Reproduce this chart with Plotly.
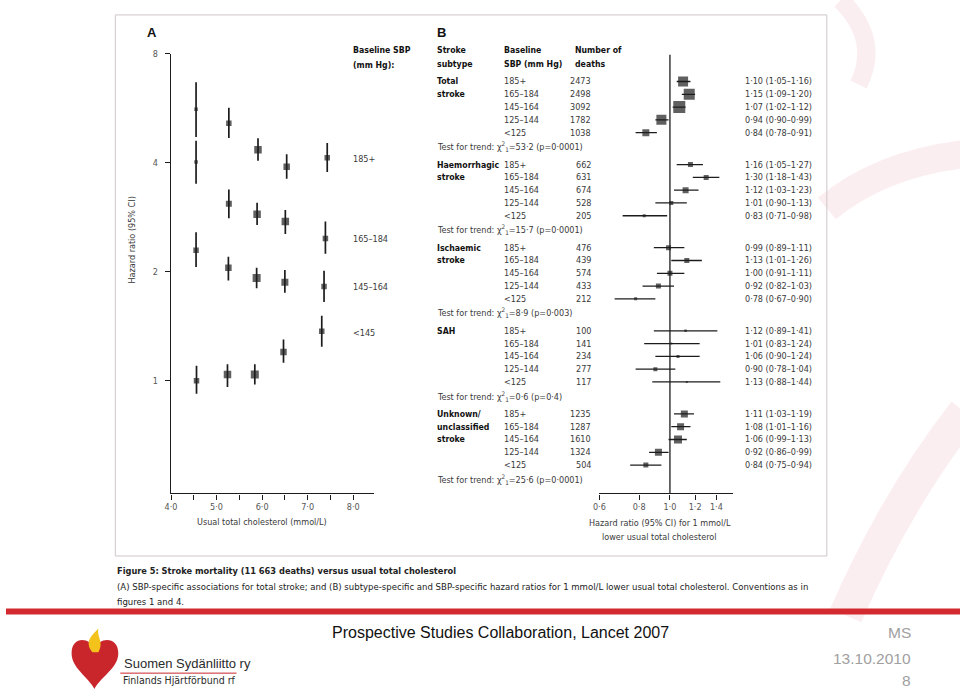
import plotly.graph_objects as go

W, H = 960, 692
def px(x): return x / W
def py(y): return 1 - y / H

# ---------------- Panel A data ----------------
sbp_levels_a = ["185+", "165–184", "145–164", "<145"]
chol_185 = [4.55, 5.27, 5.91, 6.54, 7.43]
hr_185 = [5.62, 5.14, 4.34, 3.90, 4.13]
lo_185 = [4.71, 4.68, 4.05, 3.61, 3.77]
hi_185 = [6.67, 5.67, 4.67, 4.22, 4.53]

chol_165 = [4.55, 5.27, 5.89, 6.51, 7.39]
hr_165 = [4.02, 3.08, 2.88, 2.75, 2.47]
lo_165 = [3.50, 2.81, 2.69, 2.54, 2.24]
hi_165 = [4.60, 3.37, 3.10, 2.96, 2.75]

chol_145 = [4.55, 5.26, 5.88, 6.50, 7.36]
hr_145 = [2.29, 2.05, 1.92, 1.87, 1.82]
lo_145 = [2.06, 1.89, 1.80, 1.75, 1.65]
hi_145 = [2.57, 2.20, 2.05, 2.02, 2.01]

chol_lt145 = [4.56, 5.24, 5.84, 6.47, 7.31]
hr_lt145 = [1.00, 1.04, 1.04, 1.20, 1.37]
lo_lt145 = [0.92, 0.96, 0.975, 1.12, 1.24]
hi_lt145 = [1.10, 1.11, 1.11, 1.30, 1.51]

a_xticks = [4.0, 5.0, 6.0, 7.0, 8.0]
a_xticktext = ["4·0", "5·0", "6·0", "7·0", "8·0"]
a_xminor = [4.5, 5.5, 6.5, 7.5]
a_yticks = [1, 2, 4, 8]

# ---------------- Panel B data ----------------
subtype_lines = [["Total", "stroke"], ["Haemorrhagic", "stroke"], ["Ischaemic", "stroke"],
                 ["SAH"], ["Unknown/", "unclassified", "stroke"]]
sbp_groups = ["185+", "165–184", "145–164", "125–144", "<125"]

deaths_total = [2473, 2498, 3092, 1782, 1038]
hr_total = [1.10, 1.15, 1.07, 0.94, 0.84]
lo_total = [1.05, 1.09, 1.02, 0.90, 0.78]
hi_total = [1.16, 1.20, 1.12, 0.99, 0.91]

deaths_haem = [662, 631, 674, 528, 205]
hr_haem = [1.16, 1.30, 1.12, 1.01, 0.83]
lo_haem = [1.05, 1.18, 1.03, 0.90, 0.71]
hi_haem = [1.27, 1.43, 1.23, 1.13, 0.98]

deaths_isch = [476, 439, 574, 433, 212]
hr_isch = [0.99, 1.13, 1.00, 0.92, 0.78]
lo_isch = [0.89, 1.01, 0.91, 0.82, 0.67]
hi_isch = [1.11, 1.26, 1.11, 1.03, 0.90]

deaths_sah = [100, 141, 234, 277, 117]
hr_sah = [1.12, 1.01, 1.06, 0.90, 1.13]
lo_sah = [0.89, 0.83, 0.90, 0.78, 0.88]
hi_sah = [1.41, 1.24, 1.24, 1.04, 1.44]

deaths_unk = [1235, 1287, 1610, 1324, 504]
hr_unk = [1.11, 1.08, 1.06, 0.92, 0.84]
lo_unk = [1.03, 1.01, 0.99, 0.86, 0.75]
hi_unk = [1.19, 1.16, 1.13, 0.99, 0.94]

trend_chi = ["53·2", "15·7", "8·9", "0·6", "25·6"]
trend_p = ["0·0001", "0·0001", "0·003", "0·4", "0·0001"]

b_xticks = [0.6, 0.8, 1.0, 1.2, 1.4]
b_xticktext = ["0·6", "0·8", "1·0", "1·2", "1·4"]

# ---------------- styles ----------------
FONT = "DejaVu Sans Condensed, Liberation Sans Narrow, sans-serif"
SANS = "Liberation Sans, Arial, sans-serif"
INK = "#1c1c1c"
TXT = "#3a3a3a"
FS = 9.0
FSB = 8.7
size_a = [[3.5, 5.5, 7.5, 6.5, 5.5], [3.5, 6, 7.5, 7.5, 5.5], [5.5, 6.5, 8, 7, 5.5], [5.5, 7.5, 8, 6.5, 5.5]]
size_b = [[10, 11, 12, 10, 7], [5, 5, 6, 4, 3], [5, 5, 5, 5, 3], [2.5, 2, 3, 4, 2], [7, 7, 8, 7, 5]]

fig = go.Figure()

series_a = [(chol_185, hr_185, lo_185, hi_185), (chol_165, hr_165, lo_165, hi_165),
            (chol_145, hr_145, lo_145, hi_145), (chol_lt145, hr_lt145, lo_lt145, hi_lt145)]
for i, (xs, hr, lo, hi) in enumerate(series_a):
    fig.add_trace(go.Scatter(
        x=xs, y=hr, mode="markers", xaxis="x", yaxis="y", name=sbp_levels_a[i],
        marker=dict(symbol="square", size=size_a[i], color=INK, line=dict(width=0)),
        error_y=dict(type="data", symmetric=False,
                     array=[h - v for h, v in zip(hi, hr)],
                     arrayminus=[v - l for v, l in zip(hr, lo)],
                     color=INK, thickness=1.7, width=0),
        showlegend=False, hoverinfo="skip"))

groups_b = [(deaths_total, hr_total, lo_total, hi_total), (deaths_haem, hr_haem, lo_haem, hi_haem),
            (deaths_isch, hr_isch, lo_isch, hi_isch), (deaths_sah, hr_sah, lo_sah, hi_sah),
            (deaths_unk, hr_unk, lo_unk, hi_unk)]
GSTEP = 6.5
for g, (dth, hr, lo, hi) in enumerate(groups_b):
    rows = [g * GSTEP + r for r in range(5)]
    fig.add_trace(go.Scatter(
        x=hr, y=rows, mode="markers", xaxis="x2", yaxis="y2",
        marker=dict(symbol="square", size=size_b[g], color=INK, line=dict(width=0)),
        error_x=dict(type="data", symmetric=False,
                     array=[h - v for h, v in zip(hi, hr)],
                     arrayminus=[v - l for v, l in zip(hr, lo)],
                     color=INK, thickness=1.3, width=0),
        showlegend=False, hoverinfo="skip"))

ann = []
def T(x, y, text, size=FS, color=TXT, xanchor="left", yanchor="middle", xref="paper", yref="paper",
      bold=False, family=FONT, angle=0):
    if bold:
        text = "<b>" + text + "</b>"
    ann.append(dict(x=x, y=y, xref=xref, yref=yref, text=text, showarrow=False,
                    xanchor=xanchor, yanchor=yanchor, textangle=angle,
                    font=dict(family=family, size=size, color=color)))

def fmt(v):
    return f"{v:.2f}".replace(".", "·")

# Panel B text columns
T(px(432), py(28), "B", size=13, color="#111", bold=True, family=SANS)
T(px(432), py(45.5), "Stroke", size=FSB, bold=True, color="#111")
T(px(432), py(59), "subtype", size=FSB, bold=True, color="#111")
T(px(499), py(45.5), "Baseline", size=FSB, bold=True, color="#111")
T(px(499), py(59), "SBP (mm Hg)", size=FSB, bold=True, color="#111")
T(px(571), py(45.5), "Number of", size=FSB, bold=True, color="#111")
T(px(571), py(59), "deaths", size=FSB, bold=True, color="#111")
for g, (dth, hr, lo, hi) in enumerate(groups_b):
    for k, line in enumerate(subtype_lines[g]):
        T(px(432), g * GSTEP + k, line, size=FSB, yref="y2", bold=True, color="#111")
    for r in range(5):
        yv = g * GSTEP + r
        T(px(499), yv, sbp_groups[r], yref="y2")
        T(px(591), yv, str(dth[r]), yref="y2", xanchor="right")
        T(px(742), yv, f"{fmt(hr[r])} ({fmt(lo[r])}–{fmt(hi[r])})", yref="y2")
    T(px(432), g * GSTEP + 5.1,
      f"Test for trend: χ<sup>2</sup><sub>1</sub>={trend_chi[g]} (p={trend_p[g]})", yref="y2")

T(px(658), py(522), "Hazard ratio (95% CI) for 1 mmol/L", xanchor="center")
T(px(658), py(536), "lower usual total cholesterol", xanchor="center")

# Panel A text
T(px(140), py(28), "A", size=13, color="#111", bold=True, family=SANS)
T(px(347), py(45.5), "Baseline SBP", size=FSB, bold=True, color="#111")
T(px(347), py(60), "(mm Hg):", size=FSB, bold=True, color="#111")
for lab, yy in zip(sbp_levels_a, [155.5, 236, 284, 330]):
    T(px(347), py(yy), lab)
T(px(258), py(521), "Usual total cholesterol (mmol/L)", xanchor="center")
T(px(127), py(237), "Hazard ratio (95% CI)", xanchor="center", angle=-90)

# Caption
T(px(110), py(570), "<b>Figure 5:</b> <b>Stroke mortality (11 663 deaths) versus usual total cholesterol</b>",
  size=9.2, color="#222")
T(px(110), py(586), "(A) SBP-specific associations for total stroke; and (B) subtype-specific and SBP-specific "
  "hazard ratios for 1 mmol/L lower usual total cholesterol. Conventions as in", size=9.5, color="#222")
T(px(110), py(601), "figures 1 and 4.", size=9.5, color="#222")

# Slide footer
T(px(498), py(632), "Prospective Studies Collaboration, Lancet 2007", size=16, color="#111",
  xanchor="center", family=SANS)
T(px(913), py(632), "MS", size=15.5, color="#a0a0a0", xanchor="right", family=SANS)
T(px(913), py(658), "13.10.2010", size=15.5, color="#a0a0a0", xanchor="right", family=SANS)
T(px(913), py(680), "8", size=15.5, color="#a0a0a0", xanchor="right", family=SANS)
T(px(117), py(663), "Suomen Sydänliitto ry", size=13, color="#2a2a2a", family=SANS)
T(px(116), py(680), "Finlands Hjärtförbund rf", size=10.5, color="#2a2a2a")

def path(points_cmd):
    out = []
    for item in points_cmd:
        if isinstance(item, str):
            out.append(item)
        else:
            out.append(f"{px(item[0]):.5f},{py(item[1]):.5f}")
    return " ".join(out)

shapes = []
# watermark strokes
for p, wdt in [
    (["M", (840, -5), "Q", (880, 35), (858, 80)], 18),
    (["M", (826, 205), "Q", (880, 160), (965, 150)], 28),
    (["M", (845, 615), "Q", (895, 500), (965, 410)], 34),
]:
    shapes.append(dict(type="path", xref="paper", yref="paper", path=path(p),
                       line=dict(color="rgba(215,70,90,0.09)", width=wdt), layer="below"))
# figure frame
shapes.append(dict(type="rect", xref="paper", yref="paper", x0=px(110), x1=px(826), y0=py(555), y1=py(10),
                   line=dict(color="#cfc6ca", width=1), fillcolor="rgba(0,0,0,0)", layer="below"))
# red bar
shapes.append(dict(type="rect", xref="paper", yref="paper", x0=0, x1=1, y0=py(614), y1=py(608),
                   line=dict(width=0), fillcolor="#d32a30"))
# vertical line at HR 1
shapes.append(dict(type="line", xref="x2", yref="paper", x0=1, x1=1, y0=py(492), y1=py(50),
                   line=dict(color=INK, width=1.3)))
# logo heart
shapes.append(dict(type="path", xref="paper", yref="paper",
                   path=path(["M", (89, 649), "C", (84, 636), (66, 636), (66, 653),
                              "C", (66, 668), (82, 676), (89, 689),
                              "C", (96, 676), (113, 668), (113, 653),
                              "C", (113, 636), (94, 636), (89, 649), "Z"]),
                   fillcolor="#c9262c", line=dict(width=0)))
shapes.append(dict(type="path", xref="paper", yref="paper",
                   path=path(["M", (87, 652), "C", (79, 642), (85, 636), (93, 628),
                              "C", (91, 637), (99, 641), (93, 652), "Z"]),
                   fillcolor="#f3c21b", line=dict(width=0)))
shapes.append(dict(type="line", xref="paper", yref="paper", x0=px(115), x1=px(232), y0=py(673), y1=py(673),
                   line=dict(color="#c9262c", width=1)))

fig.update_layout(
    width=W, height=H, autosize=False, margin=dict(l=0, r=0, t=0, b=0, pad=0),
    paper_bgcolor="white", plot_bgcolor="rgba(0,0,0,0)",
    font=dict(family=FONT, size=FS, color=TXT),
    xaxis=dict(domain=[px(166), px(370)], range=[3.999, 8.45], tickvals=a_xticks, ticktext=a_xticktext,
               minor=dict(tickvals=a_xminor, ticks="outside", ticklen=5, tickcolor=INK, tickwidth=1.2,
                          showgrid=False),
               showline=True, linecolor=INK, linewidth=1.4, ticks="outside", ticklen=5, tickcolor=INK,
               tickwidth=1.2, showgrid=False, zeroline=False, anchor="y",
               tickfont=dict(family=FONT, size=FS, color="#555")),
    yaxis=dict(domain=[py(492), py(49)], type="log", range=[-0.3116, 0.9032], tickvals=a_yticks,
               ticktext=[str(v) for v in a_yticks], ticklabelstandoff=5,
               showline=True, linecolor=INK, linewidth=1.4, ticks="outside", ticklen=5, tickcolor=INK,
               tickwidth=1.2, showgrid=False, zeroline=False, anchor="x",
               tickfont=dict(family=FONT, size=FS, color="#555")),
    xaxis2=dict(domain=[px(597), px(731.7)], type="log", range=[-0.2222, 0.1987],
                tickvals=b_xticks, ticktext=b_xticktext,
                showline=True, linecolor=INK, linewidth=1.3, ticks="outside", ticklen=5, tickcolor=INK,
                tickwidth=1.2, showgrid=False, zeroline=False, anchor="y2",
                tickfont=dict(family=FONT, size=FS, color="#555")),
    yaxis2=dict(domain=[py(492), py(50)], range=[32.22, -2.10], visible=False, anchor="x2"),
    annotations=ann, shapes=shapes, showlegend=False,
)

fig.write_html("out.html", config={"responsive": False, "displayModeBar": False},
               post_script=("document.documentElement.style.margin='0';"
                            "document.body.style.margin='0';document.body.style.padding='0';"
                            "document.body.style.overflow='hidden';"))
